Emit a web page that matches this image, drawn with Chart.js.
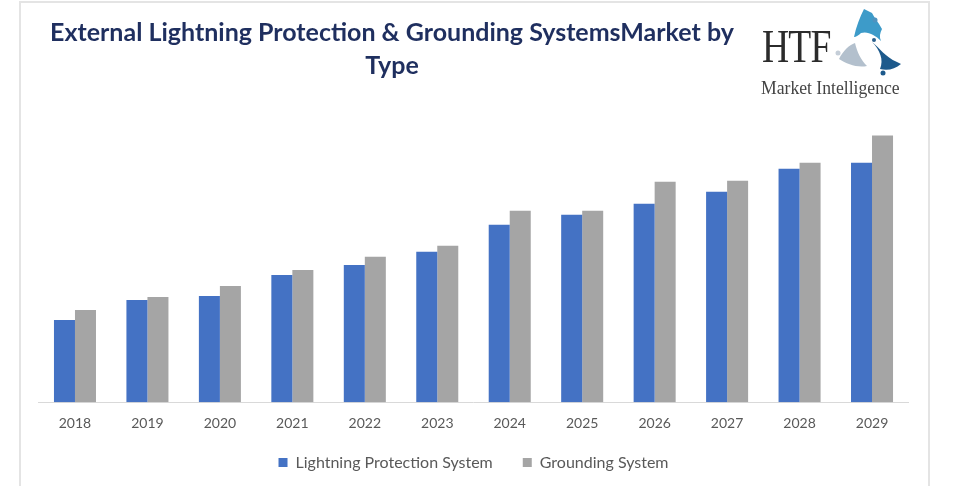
<!DOCTYPE html>
<html>
<head>
<meta charset="utf-8">
<script src="https://cdn.jsdelivr.net/npm/chart.js@4.4.0/dist/chart.umd.min.js"></script>
<style>
  html, body { margin: 0; padding: 0; background: #fff; }
  #wrap { position: relative; width: 957px; height: 486px; overflow: hidden; }
  #frame { position: absolute; left: 19px; top: 1px; width: 911px; height: 490px; border: 2px solid #e4e4e4; box-sizing: border-box; }
  #chart { position: absolute; left: 0; top: 0; }
  #title { position: absolute; left: 0; top: 15px; width: 784px; text-align: center;
           font-family: Lato, sans-serif; font-weight: 700; font-size: 25px; line-height: 33px; color: #1f2f5f; }
  #logo { position: absolute; left: 758px; top: 6px; width: 150px; height: 95px; }
  #htf { position: absolute; left: 4px; top: 17px; font-family: "Liberation Serif", serif; font-size: 47px; line-height: 47px;
         color: #2b2b2b; transform: scaleX(0.8); transform-origin: left top; letter-spacing: -1px; }
  #mi { position: absolute; left: 3px; top: 72px; font-family: "Liberation Serif", serif; font-size: 18px; line-height: 20px;
        color: #444; transform: scaleX(0.98); transform-origin: left top; white-space: nowrap; }
  #fig { position: absolute; left: 76px; top: 1px; }
</style>
</head>
<body>
<div id="wrap">
  <div id="frame"></div>
  <canvas id="chart" width="957" height="486"></canvas>
  <div id="title">External Lightning Protection &amp; Grounding SystemsMarket by<br>Type</div>
  <div id="logo">
    <div id="htf">HTF</div>
    <svg id="fig" width="72" height="72" viewBox="0 0 72 72">
      <path d="M20 30 C22 20 26 10 30 2 L38 6 C40 10 44 15 48 22 C46 26 45 30 47 34 C41 28 34 24 27 26 C25 28 22 30 20 30 Z" fill="#3d9bc9"/>
      <circle cx="41" cy="13" r="2.5" fill="#4f93bf"/>
      <path d="M38 35 C46 41 51 50 63 55 L67 57 C61 62 54 64 46 62 C50 53 46 43 38 35 Z" fill="#1d5a8c"/>
      <circle cx="40" cy="33" r="2" fill="#2a5f8c"/>
      <circle cx="49" cy="66" r="2.5" fill="#1d5a8c"/>
      <path d="M5 52 C9 44 15 38 21 36 C23 45 27 53 33 59 C23 61 13 57 5 52 Z" fill="#b3c0cd"/>
      <circle cx="4" cy="46" r="2.5" fill="#c5ced8"/>
    </svg>
    <div id="mi">Market Intelligence</div>
  </div>
</div>
<script>
var anos = ['2018', '2019', '2020', '2021', '2022', '2023', '2024', '2025', '2026', '2027', '2028', '2029'];
var protecao = [8.2, 10.2, 10.6, 12.7, 13.7, 15.0, 17.7, 18.7, 19.8, 21.0, 23.3, 23.9];
var aterramento = [9.2, 10.5, 11.6, 13.2, 14.5, 15.6, 19.1, 19.1, 22.0, 22.1, 23.9, 26.6];

// a legenda tem padding grande (espaco entre itens), entao sobe um pouco depois do layout
var sobeLegenda = {
  id: 'sobeLegenda',
  afterLayout: function(chart) {
    chart.legend.top -= 20.5;
    chart.legend.bottom -= 20.5;
  }
};

var ctx = document.getElementById('chart');
var grafico = new Chart(ctx, {
  type: 'bar',
  data: {
    labels: anos,
    datasets: [{
      label: 'Lightning Protection System',
      data: protecao,
      backgroundColor: '#4472c4',
      categoryPercentage: 0.58,
      barPercentage: 1
    }, {
      label: 'Grounding System',
      data: aterramento,
      backgroundColor: '#a5a5a5',
      categoryPercentage: 0.58,
      barPercentage: 1
    }]
  },
  options: {
    responsive: false,
    animation: false,
    layout: {
      padding: { left: 38.75, right: 48.75, top: 101.5, bottom: -15 }
    },
    scales: {
      x: {
        grid: { display: false, drawTicks: false },
        border: { display: true, color: '#d9d9d9', width: 1 },
        ticks: { color: '#595959', padding: 13, font: { family: 'Lato', size: 14 } }
      },
      y: {
        display: false,
        min: 0,
        max: 30
      }
    },
    plugins: {
      legend: {
        position: 'bottom',
        labels: {
          boxWidth: 9,
          boxHeight: 9,
          padding: 30,
          color: '#595959',
          font: { family: 'Lato', size: 16 }
        }
      },
      tooltip: { enabled: false }
    }
  },
  plugins: [sobeLegenda]
});
</script>
</body>
</html>
